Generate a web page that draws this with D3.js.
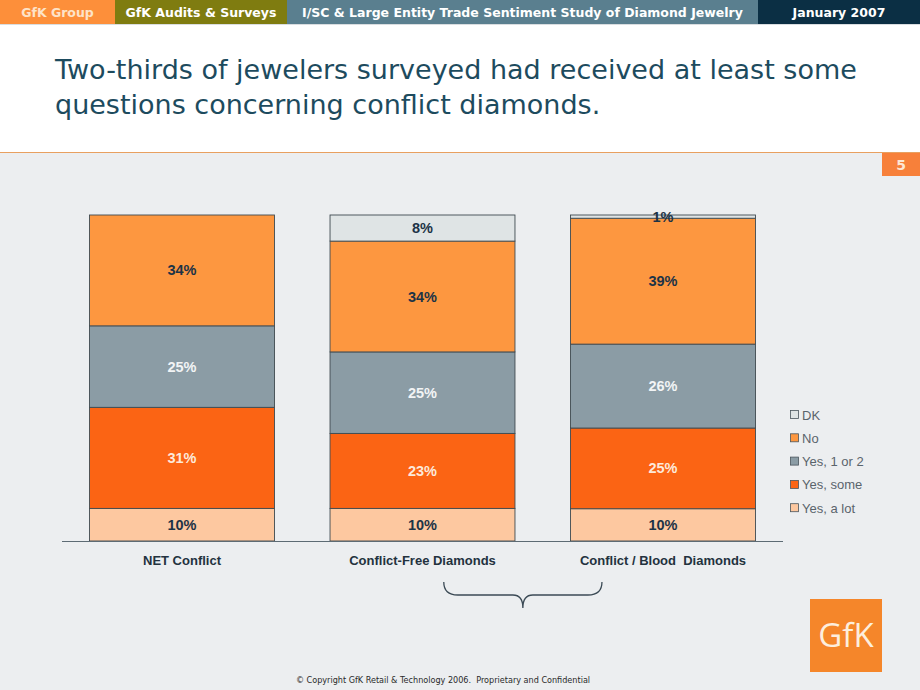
<!DOCTYPE html>
<html><head><meta charset="utf-8">
<script src="https://cdn.jsdelivr.net/npm/d3@7/dist/d3.min.js"></script>
<style>body{margin:0;padding:0;background:#fff}svg{display:block}text{white-space:pre}</style>
</head><body>
<svg id="c" width="920" height="690"></svg>
<script>
const categories = ["NET Conflict", "Conflict-Free Diamonds", "Conflict / Blood  Diamonds"];
const seriesNames = ["Yes, a lot", "Yes, some", "Yes, 1 or 2", "No", "DK"];
const yesALot = [10, 10, 10];
const yesSome = [31, 23, 25];
const yes1or2 = [25, 25, 26];
const no = [34, 34, 39];
const dk = [0, 8, 1];
const legendOrder = ["DK", "No", "Yes, 1 or 2", "Yes, some", "Yes, a lot"];
const headerTabs = ["GfK Group", "GfK Audits & Surveys", "I/SC & Large Entity Trade Sentiment Study of Diamond Jewelry", "January 2007"];
const titleLines = ["Two-thirds of jewelers surveyed had received at least some", "questions concerning conflict diamonds."];

const colors = {"Yes, a lot":"#fdc8a0","Yes, some":"#fb6414","Yes, 1 or 2":"#8b9ca5","No":"#fd9740","DK":"#dfe4e5"};
const labelColors = {"Yes, a lot":"#1c3346","Yes, some":"#fde9da","Yes, 1 or 2":"#f2f4f5","No":"#1c3346","DK":"#1c3346"};

const svg = d3.select("#c");
svg.append("rect").attr("x",0).attr("y",0).attr("width",920).attr("height",690).attr("fill","#eceef0");
svg.append("rect").attr("x",0).attr("y",0).attr("width",920).attr("height",152).attr("fill","#ffffff");
svg.append("line").attr("x1",0).attr("x2",920).attr("y1",152.5).attr("y2",152.5).attr("stroke","#e8a060").attr("stroke-width",1.2);

// header tabs
const tabX = [0,115,287,758,920];
const tabFill = ["#fd8f3a","#7f7c10","#5a7f8f","#0b2f44"];
const tabText = ["#fde3c8","#ffffff","#ffffff","#ffffff"];
headerTabs.forEach((t,i)=>{
  svg.append("rect").attr("x",tabX[i]).attr("y",0).attr("width",tabX[i+1]-tabX[i]).attr("height",24).attr("fill",tabFill[i]);
  svg.append("text").attr("x",(tabX[i]+tabX[i+1])/2).attr("y",17).attr("text-anchor","middle")
    .attr("font-family","DejaVu Sans").attr("font-weight","bold").attr("font-size",12.5).attr("fill",tabText[i]).text(t);
});
svg.append("rect").attr("x",0).attr("y",24).attr("width",920).attr("height",1).attr("fill","#d9dde0");

// title
titleLines.forEach((t,i)=>{
  svg.append("text").attr("x",55).attr("y",79+i*35).attr("font-family","DejaVu Sans").attr("font-size",27)
    .attr("fill","#1d4b5e").text(t);
});

// page number
svg.append("rect").attr("x",882).attr("y",153).attr("width",38).attr("height",23).attr("fill","#f7803a");
svg.append("text").attr("x",901).attr("y",170).attr("text-anchor","middle").attr("font-family","DejaVu Sans").attr("font-weight","bold").attr("font-size",14).attr("fill","#fde7d4").text("5");

// chart
const x = d3.scaleBand().domain(categories).range([62,783]).paddingInner(0.231).paddingOuter(0.1145);
const y = d3.scaleLinear().domain([0,1]).range([541,215]);
const table = categories.map((c,i)=>({cat:c,"Yes, a lot":yesALot[i],"Yes, some":yesSome[i],"Yes, 1 or 2":yes1or2[i],"No":no[i],"DK":dk[i]}));
const stack = d3.stack().keys(seriesNames).offset(d3.stackOffsetExpand);
const layers = stack(table);
const g = svg.append("g");
layers.forEach(layer=>{
  const key = layer.key;
  layer.forEach((d,i)=>{
    const v = table[i][key];
    if(!v) return;
    g.append("rect").attr("x",x(categories[i])).attr("y",y(d[1])).attr("width",x.bandwidth()).attr("height",y(d[0])-y(d[1]))
      .attr("fill",colors[key]).attr("stroke","#3f4a50").attr("stroke-width",0.9);
  });
});
layers.forEach(layer=>{
  const key = layer.key;
  layer.forEach((d,i)=>{
    const v = table[i][key];
    if(!v) return;
    g.append("text").attr("x",x(categories[i])+x.bandwidth()/2).attr("y",(y(d[0])+y(d[1]))/2+5)
      .attr("text-anchor","middle").attr("font-family","Liberation Sans").attr("font-weight","bold").attr("font-size",14.5)
      .attr("fill",labelColors[key]).text(v+"%");
  });
});
// axis
const ax = svg.append("g").attr("transform","translate(0,541)").call(d3.axisBottom(x).tickSize(0).tickPadding(14));
ax.select(".domain").attr("stroke","#5d6b74").attr("stroke-width",1.2).attr("d","M62,0.5H783");
ax.selectAll("text").attr("font-family","Liberation Sans").attr("font-weight","bold").attr("font-size",13).attr("fill","#23323e").attr("dy","0.75em");

// legend
legendOrder.forEach((k,i)=>{
  const yy = 415 + i*23.3;
  svg.append("rect").attr("x",790.5).attr("y",yy-4.5).attr("width",8).attr("height",8).attr("fill",colors[k]).attr("stroke","#4a555c").attr("stroke-width",0.8);
  svg.append("text").attr("x",802).attr("y",yy+4.5).attr("font-family","Liberation Sans").attr("font-size",13).attr("fill","#5a646c").text(k);
});

// brace under the two diamond categories
const bL = x(categories[1])+x.bandwidth()*0.615, bR = x(categories[2])+x.bandwidth()*0.17;
const bm = (bL+bR)/2;
svg.append("path").attr("d",`M${bL},582 Q${bL},595 ${bL+14},595 L${bm-10},595 Q${bm},595 ${bm},608 Q${bm},595 ${bm+10},595 L${bR-14},595 Q${bR},595 ${bR},582`)
  .attr("fill","none").attr("stroke","#3b4a55").attr("stroke-width",1.3);

// logo
svg.append("rect").attr("x",810).attr("y",599).attr("width",72).attr("height",73).attr("fill","#f5862a");
svg.append("text").attr("x",846).attr("y",647).attr("text-anchor","middle").attr("font-family","Open Sans").attr("font-size",33).attr("fill","#fdeedd").text("GfK");

// footer
svg.append("text").attr("x",443).attr("y",683).attr("text-anchor","middle").attr("font-family","DejaVu Sans").attr("font-size",8.1).attr("fill","#2a2a2a").text("© Copyright GfK Retail & Technology 2006.  Proprietary and Confidential");
</script>
</body></html>
